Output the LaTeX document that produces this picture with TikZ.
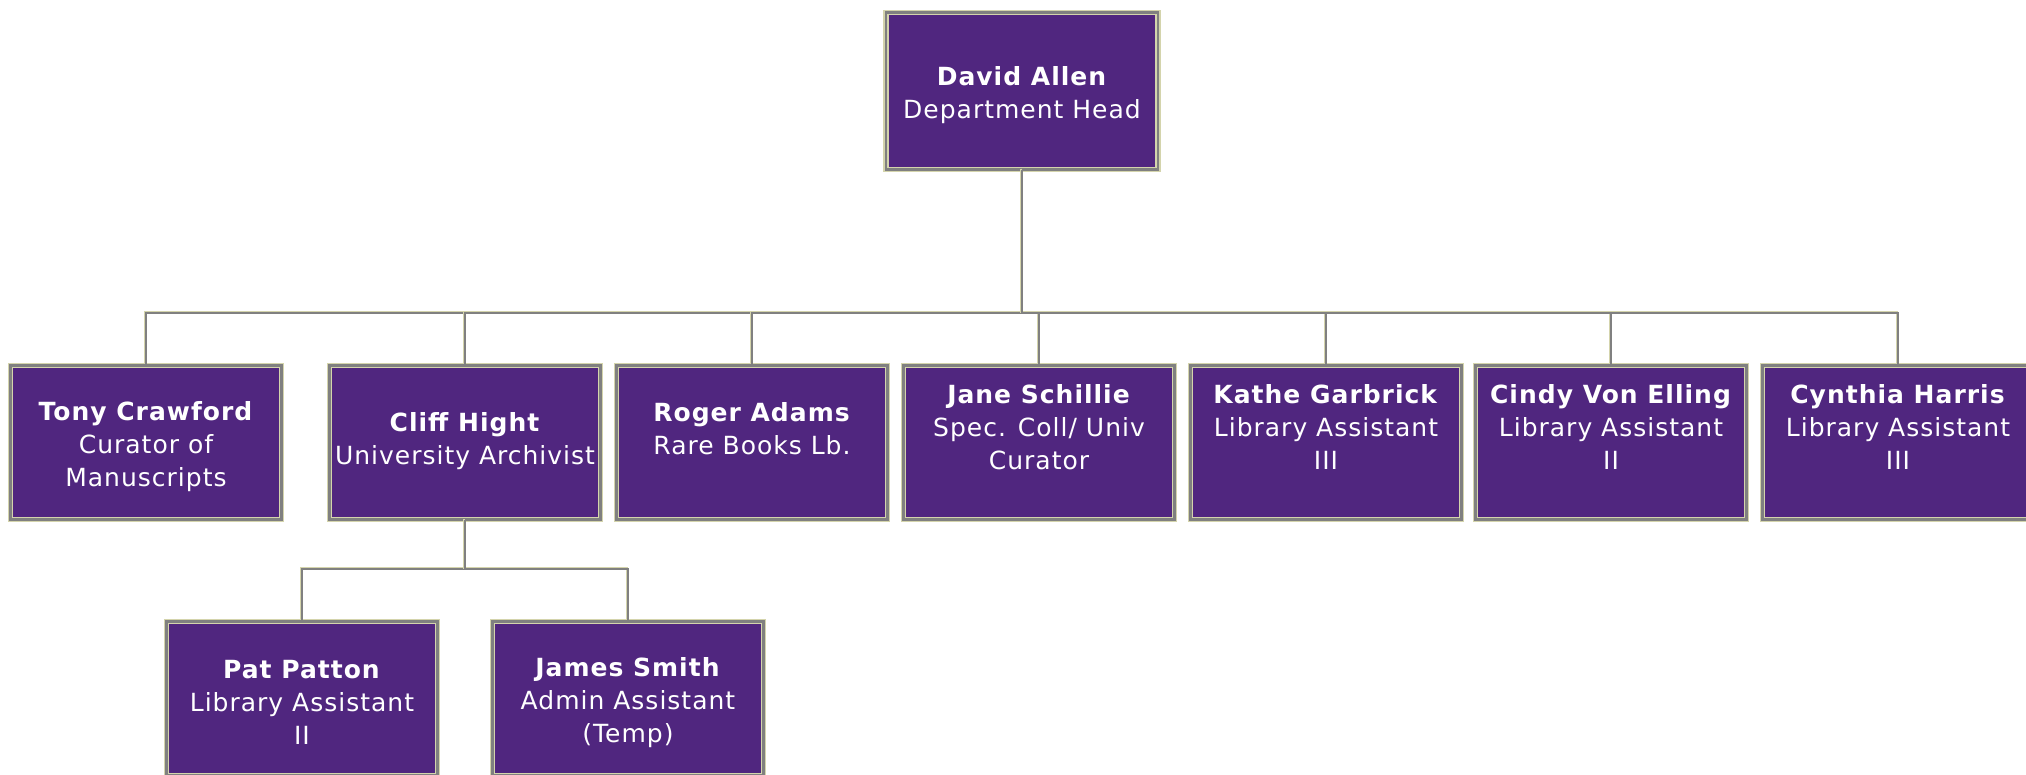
\documentclass[tikz,border=0pt]{standalone}
\usepackage{fontspec}
\setmainfont{DejaVu Sans}[LetterSpace=4]
\usetikzlibrary{shadows}
\definecolor{chartpurple}{HTML}{50267F}
\definecolor{bordkhaki}{HTML}{D4D4AC}
\definecolor{bordgray}{HTML}{808080}

\begin{document}
\begin{tikzpicture}[x=0.5pt, y=-0.5pt,
    pbox/.style={draw=bordkhaki, double=bordgray, double distance=1.2pt, line width=0.7pt,
      fill=chartpurple, minimum width=135.5pt, minimum height=77pt, inner sep=0pt,
      drop shadow={shadow xshift=0.7pt, shadow yshift=-0.7pt, fill=black!30, opacity=0.6}},
    ptext/.style={text=white, align=center, inner sep=0pt, font=\fontsize{12.5}{16.5}\selectfont},
    conn/.style={draw=bordgray, line width=1pt,
      preaction={draw=bordkhaki, line width=1.1pt, transform canvas={shift={(-0.6pt,0.6pt)}}}}]
    \useasboundingbox (0,0) rectangle (2026,775);
    % Head of department
    \node[pbox, minimum width=136pt, minimum height=78.5pt] (head) at (1022,91) {};
    \node[ptext, yshift=-2pt] (headT) at (head.center) {\textbf{David Allen}\\Department Head};
    % Staff row
    \foreach \who/\cx in {tony/146, cliff/465, roger/752, jane/1039, kathe/1326, cindy/1611, cynthia/1898}
        \node[pbox] (\who) at (\cx,442.5) {};
    \node[ptext, yshift=-2pt] (tonyT) at (tony.center) {\textbf{Tony Crawford}\\Curator of\\Manuscripts};
    \node[ptext, yshift=0.5pt] (cliffT) at (cliff.center) {\textbf{Cliff Hight}\\University Archivist};
    \node[ptext, yshift=7pt] (rogerT) at (roger.center) {\textbf{Roger Adams}\\Rare Books Lb.};
    \node[ptext, yshift=7.5pt] (janeT) at (jane.center) {\textbf{Jane Schillie}\\Spec. Coll/ Univ\\Curator};
    \node[ptext, yshift=7.5pt] (katheT) at (kathe.center) {\textbf{Kathe Garbrick}\\Library Assistant\\III};
    \node[ptext, yshift=7.5pt] (cindyT) at (cindy.center) {\textbf{Cindy Von Elling}\\Library Assistant\\II};
    \node[ptext, yshift=7.5pt] (cynthiaT) at (cynthia.center) {\textbf{Cynthia Harris}\\Library Assistant\\III};
    % Under the archivist
    \node[pbox] (pat) at (302,698.5) {};
    \node[pbox] (james) at (628,698.5) {};
    \node[ptext, yshift=-2pt] (patT) at (pat.center) {\textbf{Pat Patton}\\Library Assistant\\II};
    \node[ptext, yshift=-2pt] (jamesT) at (james.center) {\textbf{James Smith}\\Admin Assistant\\(Temp)};
    % Connectors
    \coordinate (bus) at (1022,313);
    \coordinate (subbus) at (465,569);
    \foreach \who in {tony, cliff, roger, jane, kathe, cindy, cynthia}
        \draw[conn] (head.south) -- (head.south |- bus) -| (\who.north);
    \foreach \who in {pat, james}
        \draw[conn] (cliff.south) -- (cliff.south |- subbus) -| (\who.north);
\end{tikzpicture}
\end{document}
